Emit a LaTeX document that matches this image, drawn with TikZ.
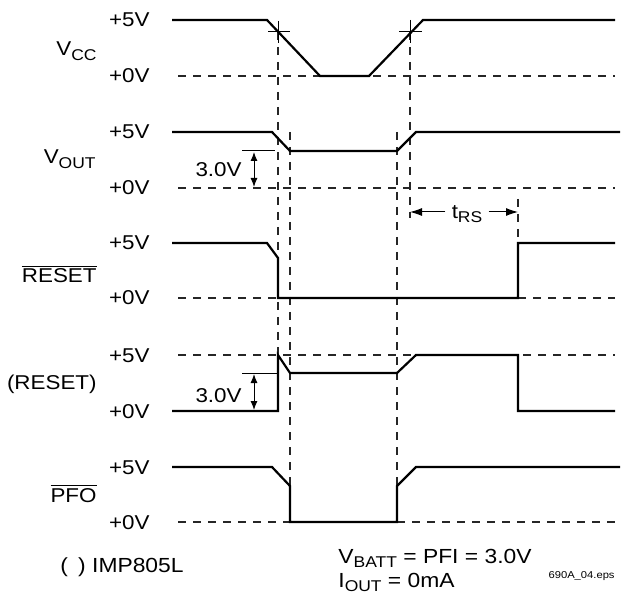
\documentclass[tikz,border=0pt]{standalone}
\usepackage{fontspec}
\setmainfont{Liberation Sans}[FakeStretch=1.12]
\usepackage{amsmath}
\usepackage{tikz}
\usetikzlibrary{positioning,arrows.meta}
\newcommand{\lowtxt}[1]{\raisebox{-0.45ex}{\fontsize{7.8}{8}\selectfont #1}}

\begin{document}
\begin{tikzpicture}[x=0.5pt,y=-0.5pt,
  sig/.style={black, line width=1.1pt, line join=miter},
  grid/.style={black!85, line width=0.6pt, dash pattern=on 4pt off 3.5pt},
  fine/.style={black, line width=0.5pt},
  lvl/.style={anchor=base east, font=\fontsize{10}{12}\selectfont, inner sep=0pt},
  signame/.style={anchor=base east, font=\fontsize{10}{12}\selectfont, inner sep=0pt},
  dim/.style={black, line width=0.5pt, {Latex[length=4.5pt,width=3.5pt]}-{Latex[length=4.5pt,width=3.5pt]}},
  note/.style={anchor=base west, font=\fontsize{10.2}{12}\selectfont, inner sep=0pt}]
\useasboundingbox (0,0) rectangle (621,593);
% dashed levels
\draw[grid] (178,76) -- (615,76);
\draw[grid] (178,188) -- (615,188);
\draw[grid] (178,298) -- (278,298);
\draw[grid] (518,298) -- (615,298);
\draw[grid] (178,355) -- (615,355);
\draw[grid] (178,522) -- (290,522);
\draw[grid] (397,522) -- (615,522);
% dashed timing marks
\draw[grid] (278,32) -- (278,355);
\draw[grid] (290,132) -- (290,486);
\draw[grid] (410,32) -- (410,218);
\draw[grid] (397,132) -- (397,486);
\draw[grid] (518,199) -- (518,243);
% signals
\draw[sig] (172,20) -- (267,20) -- (320,76) -- (369,76) -- (423,20) -- (615,20);
\draw[sig] (172,132) -- (272,132) -- (290,151) -- (397,151) -- (416,132) -- (620,132);
\draw[sig] (172,243) -- (267,243) -- (278,258) -- (278,298) -- (518,298) -- (518,243) -- (615,243);
\draw[sig] (172,411) -- (278,411) -- (278,355) -- (290,373) -- (397,373) -- (416,355) -- (518,355) -- (518,411) -- (615,411);
\draw[sig] (172,467) -- (272,467) -- (290,486) -- (290,522) -- (397,522) -- (397,486) -- (416,467) -- (620,467);
% threshold crosses
\draw[fine] (268,32) -- (290,32);
\draw[fine] (278,21) -- (278,43);
\draw[fine] (399,32) -- (422,32);
\draw[fine] (410,20) -- (410,43);
% 3.0V brackets
\draw[fine] (242,151) -- (275,151);
\coordinate (ua) at (254,152);
\coordinate (ub) at (254,187);
\draw[dim] (ua) -- (ub);
\draw[fine] (242,373) -- (278,373);
\coordinate (ra) at (254,374);
\coordinate (rb) at (254,410);
\draw[dim] (ra) -- (rb);
\node[lvl] (uv) at (242,177) {3.0V};
\node[lvl] (rv) at (242,402) {3.0V};
% reset timeout
\node[font=\fontsize{10}{12}\selectfont, inner sep=1pt] (trs) at (467,214) {t\lowtxt{RS}};
\coordinate (trsl) at (410,212);
\coordinate (trsr) at (518,212);
\draw[fine, -{Latex[length=6pt,width=4pt]}] (trs.west |- trsl) ++(-4,0) -- (trsl);
\draw[fine, -{Latex[length=6pt,width=4pt]}] (trs.east |- trsr) ++(4,0) -- (trsr);
% level labels
\node[lvl] (v5a) at (150,27) {+5V};
\node[lvl] (v0a) at (150,83) {+0V};
\node[lvl] (v5b) at (150,139) {+5V};
\node[lvl] (v0b) at (150,195) {+0V};
\node[lvl] (v5c) at (150,250) {+5V};
\node[lvl] (v0c) at (150,305) {+0V};
\node[lvl] (v5d) at (150,362) {+5V};
\node[lvl] (v0d) at (150,418) {+0V};
\node[lvl] (v5e) at (150,474) {+5V};
\node[lvl] (v0e) at (150,529) {+0V};
% signal names
\node[signame] (vcc) at (97,56) {V\lowtxt{CC}};
\node[signame] (vout) at (96,164) {V\lowtxt{OUT}};
\node[signame] (rst) at (97,283) {$\overline{\mbox{RESET}}$};
\node[signame] (rsth) at (97,389) {(RESET)};
\node[signame] (pfo) at (97,502) {$\overline{\mbox{PFO}}$};
% notes
\node[note] (part) at (60,572) {(\,\,\,) IMP805L};
\node[note] (batt) at (338,563) {V\lowtxt{BATT} = PFI = 3.0V};
\node[note] (iout) at (338,587) {I\lowtxt{OUT} = 0mA};
\node[anchor=base east, font=\fontsize{5}{6}\selectfont, inner sep=0pt] (eps) at (615,578) {690A\_04.eps};
\end{tikzpicture}
\end{document}
